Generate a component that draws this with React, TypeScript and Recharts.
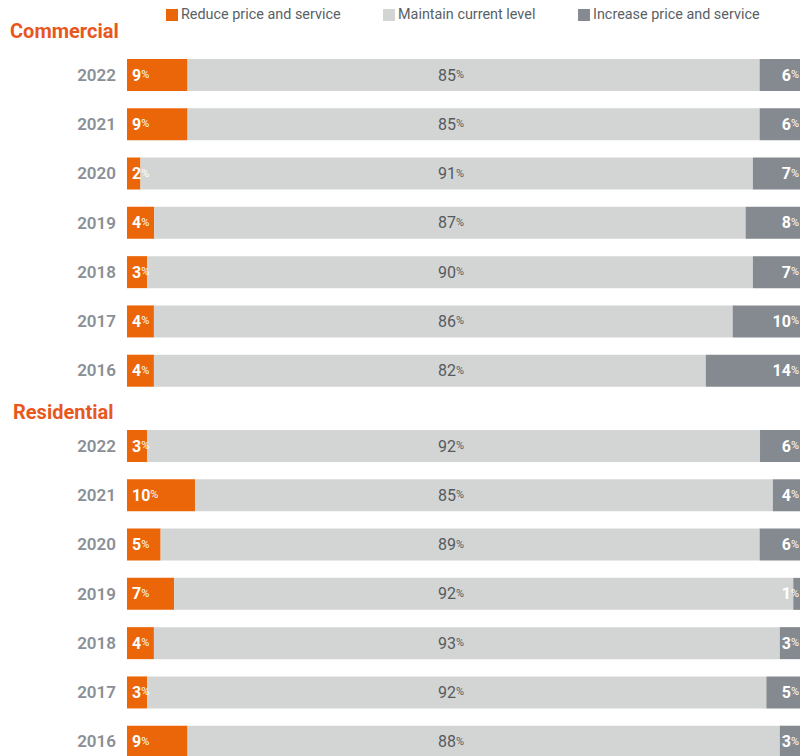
import React from 'react';
import { BarChart, Bar, XAxis, YAxis, LabelList } from 'recharts';

const years = ['2022', '2021', '2020', '2019', '2018', '2017', '2016'];

const commercialReduce = [9, 9, 2, 4, 3, 4, 4];
const commercialMaintain = [85, 85, 91, 87, 90, 86, 82];
const commercialIncrease = [6, 6, 7, 8, 7, 10, 14];

const residentialReduce = [3, 10, 5, 7, 4, 3, 9];
const residentialMaintain = [92, 85, 89, 92, 93, 92, 88];
const residentialIncrease = [6, 4, 6, 1, 3, 5, 3];

const legendItems = [
  { name: 'Reduce price and service', color: '#EA6608', left: 166 },
  { name: 'Maintain current level', color: '#D3D5D4', left: 383 },
  { name: 'Increase price and service', color: '#858A90', left: 578 },
];

const ORANGE = '#EA6608';
const LIGHT = '#D3D5D4';
const DARK = '#858A90';
const FONT = 'Roboto, "Noto Sans", sans-serif';
const AXIS_W = 127;

const buildRows = (reduce: number[], maintain: number[], increase: number[]) =>
  years.map((year, i) => ({
    year,
    reduce: reduce[i],
    maintain: maintain[i],
    increase: increase[i],
  }));

const commercialData = buildRows(commercialReduce, commercialMaintain, commercialIncrease);
const residentialData = buildRows(residentialReduce, residentialMaintain, residentialIncrease);

const num = (v: any) => (Array.isArray(v) ? v[1] - v[0] : v);

// number + small raised percent sign
const Pct = ({ x, y, value, anchor, color, bold }: any) => (
  <text x={x} y={y + 5.5} textAnchor={anchor} fontFamily={FONT} fill={color}>
    <tspan fontSize={16} fontWeight={bold ? 700 : 400}>{value}</tspan>
    <tspan fontSize={11} dy={-2.5}>%</tspan>
  </text>
);

const reduceLabel = (props: any) => {
  const { x, y, height, value } = props;
  return <Pct x={x + 5} y={y + height / 2} value={num(value)} anchor="start" color="#fff" bold />;
};

const maintainLabel = (props: any) => {
  const { y, height, value } = props;
  return <Pct x={438} y={y + height / 2} value={num(value)} anchor="start" color="#555a60" />;
};

const increaseLabel = (props: any) => {
  const { x, y, width, height, value } = props;
  return <Pct x={x + width - 1} y={y + height / 2} value={num(value)} anchor="end" color="#fff" bold />;
};

const Panel = ({ data }: { data: any[] }) => (
  <BarChart
    width={800}
    height={345}
    data={data}
    layout="vertical"
    stackOffset="expand"
    margin={{ top: 0, right: 0, bottom: 0, left: 0 }}
  >
    <XAxis type="number" hide domain={[0, 1]} />
    <YAxis
      type="category"
      dataKey="year"
      width={AXIS_W}
      axisLine={false}
      tickLine={false}
      tickMargin={5}
      tick={{ fill: '#8a8f96', fontSize: 17, fontWeight: 600, fontFamily: FONT }}
    />
    <Bar dataKey="reduce" stackId="s" fill={ORANGE} barSize={32} isAnimationActive={false}>
      <LabelList dataKey="reduce" content={reduceLabel} />
    </Bar>
    <Bar dataKey="maintain" stackId="s" fill={LIGHT} barSize={32} isAnimationActive={false}>
      <LabelList dataKey="maintain" content={maintainLabel} />
    </Bar>
    <Bar dataKey="increase" stackId="s" fill={DARK} barSize={32} isAnimationActive={false}>
      <LabelList dataKey="increase" content={increaseLabel} />
    </Bar>
  </BarChart>
);

const titleStyle: React.CSSProperties = {
  position: 'absolute',
  color: '#E8581E',
  fontFamily: FONT,
  fontWeight: 700,
  fontSize: 20,
  lineHeight: '20px',
};

export default function App() {
  return (
    <div
      style={{
        position: 'absolute',
        left: 0,
        top: 0,
        width: 800,
        height: 756,
        overflow: 'hidden',
        background: '#fff',
        fontFamily: FONT,
      }}
    >
      {legendItems.map((item) => (
        <div
          key={item.name}
          style={{
            position: 'absolute',
            left: item.left,
            top: 6,
            display: 'flex',
            alignItems: 'center',
            fontSize: 14.4,
            color: '#5a5f66',
            whiteSpace: 'nowrap',
          }}
        >
          <span style={{ width: 12, height: 12, background: item.color, marginRight: 3 }} />
          {item.name}
        </div>
      ))}
      <div style={{ ...titleStyle, left: 10, top: 21 }}>Commercial</div>
      <div style={{ position: 'absolute', left: 0, top: 50 }}>
        <Panel data={commercialData} />
      </div>
      <div style={{ ...titleStyle, left: 13, top: 402 }}>Residential</div>
      <div style={{ position: 'absolute', left: 0, top: 421 }}>
        <Panel data={residentialData} />
      </div>
    </div>
  );
}
